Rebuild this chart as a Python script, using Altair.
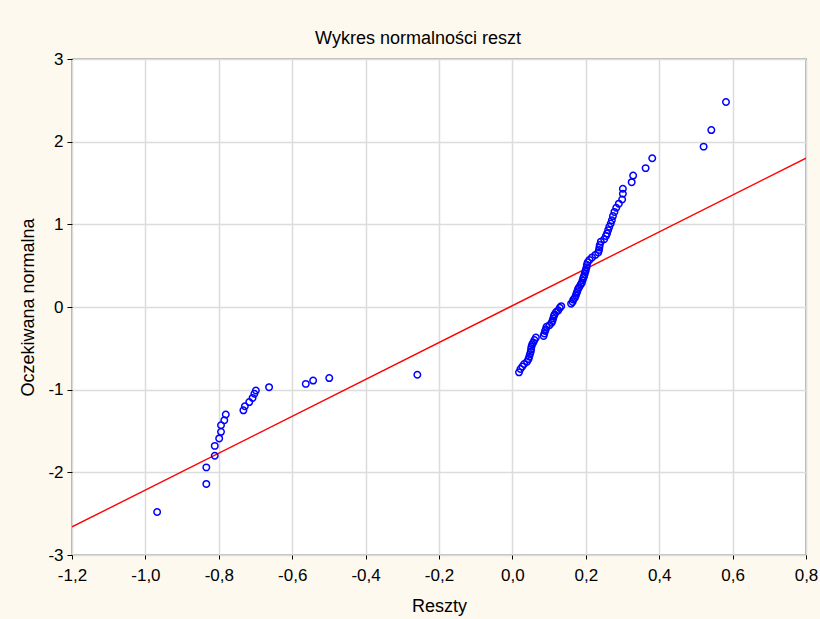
import altair as alt
import pandas as pd

# Residuals (x) against expected normal values (y), sorted by rank
reszty = [
    -0.968, -0.834, -0.834, -0.811, -0.811, -0.799, -0.794, -0.794, -0.785, -0.781,
    -0.733, -0.729, -0.717, -0.708, -0.703, -0.699, -0.663, -0.563, -0.543, -0.499,
    -0.259,
    0.018, 0.022, 0.027, 0.032, 0.040, 0.044, 0.046, 0.048, 0.050, 0.051,
    0.052, 0.054, 0.057, 0.060, 0.064, 0.085, 0.087, 0.089, 0.091, 0.093,
    0.101, 0.107, 0.109, 0.111, 0.113, 0.115, 0.119, 0.125, 0.129, 0.133,
    0.160, 0.164, 0.166, 0.170, 0.173, 0.175, 0.177, 0.179, 0.182, 0.186,
    0.189, 0.191, 0.193, 0.195, 0.197, 0.199, 0.200, 0.202, 0.203, 0.205,
    0.210, 0.217, 0.226, 0.234, 0.236, 0.237, 0.238, 0.241, 0.250, 0.255,
    0.258, 0.261, 0.264, 0.268, 0.271, 0.274, 0.278, 0.283, 0.290, 0.299,
    0.301, 0.301, 0.325, 0.329, 0.363, 0.381, 0.521, 0.542, 0.582,
]
oczekiwana = [
    -2.48, -2.14, -1.94, -1.80, -1.68, -1.59, -1.51, -1.43, -1.37, -1.30,
    -1.25, -1.20, -1.15, -1.10, -1.05, -1.01, -0.97, -0.93, -0.89, -0.86,
    -0.82,
    -0.79, -0.75, -0.72, -0.69, -0.66, -0.63, -0.60, -0.57, -0.54, -0.51,
    -0.48, -0.45, -0.43, -0.40, -0.37, -0.35, -0.32, -0.29, -0.27, -0.24,
    -0.22, -0.19, -0.17, -0.14, -0.11, -0.09, -0.06, -0.04, -0.01, 0.01,
    0.04, 0.06, 0.09, 0.11, 0.14, 0.17, 0.19, 0.22, 0.24, 0.27,
    0.29, 0.32, 0.35, 0.37, 0.40, 0.43, 0.45, 0.48, 0.51, 0.54,
    0.57, 0.60, 0.63, 0.66, 0.69, 0.72, 0.75, 0.79, 0.82, 0.86,
    0.89, 0.93, 0.97, 1.01, 1.05, 1.10, 1.15, 1.20, 1.25, 1.30,
    1.37, 1.43, 1.51, 1.59, 1.68, 1.80, 1.94, 2.14, 2.48,
]

# Reference line endpoints
linia_x = [-1.2, 0.8]
linia_y = [-2.66, 1.80]

points = pd.DataFrame({"Reszty": reszty, "Oczekiwana": oczekiwana})
line = pd.DataFrame({"Reszty": linia_x, "Oczekiwana": linia_y})

FONT = "Liberation Sans"

x_scale = alt.Scale(domain=[-1.2, 0.8], nice=False, zero=False)
y_scale = alt.Scale(domain=[-3, 3], nice=False, zero=False)

x_axis = alt.Axis(
    title="Reszty",
    values=[-1.2, -1.0, -0.8, -0.6, -0.4, -0.2, 0.0, 0.2, 0.4, 0.6, 0.8],
    labelExpr="replace(replace(format(datum.value, '.1f'), '.', ','), '\u2212', '-')",
    grid=True,
    gridColor="#dcdcdc",
    gridWidth=1.5,
    domain=False,
    ticks=True,
    tickSize=4,
    tickColor="#000000",
    labelFont=FONT,
    labelFontSize=17,
    labelColor="#000000",
    labelPadding=8,
    titleFont=FONT,
    titleFontSize=18,
    titleFontWeight="normal",
    titleColor="#000000",
    titlePadding=14,
    labelFlush=False,
    labelOverlap=False,
)

y_axis = alt.Axis(
    title="Oczekiwana normalna",
    values=[-3, -2, -1, 0, 1, 2, 3],
    labelExpr="replace(format(datum.value, 'd'), '\u2212', '-')",
    grid=True,
    gridColor="#dcdcdc",
    gridWidth=1.5,
    domain=False,
    ticks=True,
    tickSize=5,
    tickColor="#000000",
    labelFont=FONT,
    labelFontSize=17,
    labelColor="#000000",
    labelPadding=4,
    titleFont=FONT,
    titleFontSize=18,
    titleFontWeight="normal",
    titleColor="#000000",
    titlePadding=10,
    labelFlush=False,
    labelOverlap=False,
)

pts = alt.Chart(points).mark_point(
    shape="circle", filled=False, color="#0000ff", size=42, strokeWidth=1.5, opacity=1
).encode(
    x=alt.X("Reszty:Q", scale=x_scale, axis=x_axis),
    y=alt.Y("Oczekiwana:Q", scale=y_scale, axis=y_axis),
)

ref = alt.Chart(line).mark_line(color="#ff0000", strokeWidth=1.4, clip=True).encode(
    x=alt.X("Reszty:Q", scale=x_scale),
    y=alt.Y("Oczekiwana:Q", scale=y_scale),
)

chart = (
    alt.layer(ref, pts)
    .properties(
        width=734,
        height=496,
        title=alt.TitleParams(
            "Wykres normalności reszt",
            font=FONT,
            fontSize=18,
            fontWeight="normal",
            color="#000000",
            offset=2,
            dx=-21,
        ),
        autosize=alt.AutoSizeParams(type="none"),
        padding={"left": 72, "top": 59, "right": 14, "bottom": 64},
        background="#fdf9ee",
    )
    .configure_view(fill="#ffffff", stroke="#000000", strokeWidth=1.2)
)

chart.save("out.html", embed_options={"renderer": "svg", "actions": False})
